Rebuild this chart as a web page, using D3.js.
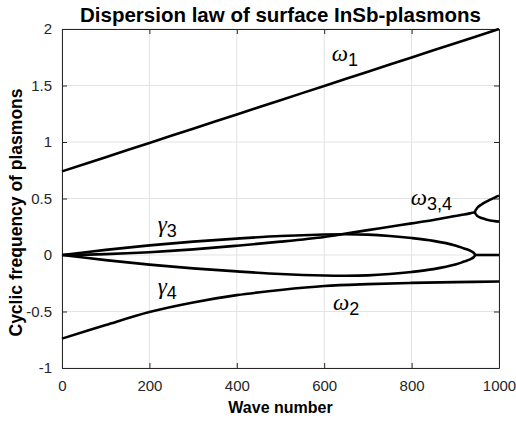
<!DOCTYPE html>
<html>
<head>
<meta charset="utf-8">
<script src="https://cdn.jsdelivr.net/npm/d3@7"></script>
<style>
  body { margin: 0; background: #fff; }
  text { font-family: "Liberation Sans", Arial, sans-serif; }
</style>
</head>
<body>
<div id="main"></div>
<script>
// wave number samples and branches
var kLine = [0, 100, 200, 300, 400, 500, 600, 700, 800, 900, 1000]
var omega1 = [0.74, 0.866, 0.992, 1.118, 1.244, 1.37, 1.496, 1.622, 1.748, 1.874, 2.0]
var omega2 = [-0.74, -0.62, -0.505, -0.42, -0.355, -0.31, -0.275, -0.258, -0.247, -0.24, -0.235]

var kLoop = [0, 100, 200, 300, 400, 500, 600, 650, 700, 750, 800, 850, 900, 920, 935, 942, 945]
var omega34 = [0, 0.008, 0.025, 0.05, 0.082, 0.118, 0.16, 0.19, 0.22, 0.25, 0.28, 0.31, 0.345, 0.358, 0.37, 0.376, 0.378]
var gamma3 = [0, 0.045, 0.085, 0.118, 0.145, 0.168, 0.182, 0.184, 0.18, 0.168, 0.15, 0.125, 0.085, 0.058, 0.036, 0.02, 0]
var gamma4 = gamma3.map(function(v){ return -v; })

var kSplit = [945, 950, 960, 970, 980, 990, 1000]
var omega3 = [0.378, 0.416, 0.447, 0.47, 0.49, 0.508, 0.525]
var omega4 = [0.378, 0.346, 0.327, 0.315, 0.306, 0.30, 0.295]
var gammaZero = [0, 0, 0, 0, 0, 0, 0]

var xTicks = [0, 200, 400, 600, 800, 1000]
var yTicks = [-1, -0.5, 0, 0.5, 1, 1.5, 2]

var dimensions = {
  width: 516,
  height: 423,
  margin: { top: 29, bottom: 55, right: 17, left: 62 }
}
dimensions.boundedWidth = dimensions.width - dimensions.margin.left - dimensions.margin.right
dimensions.boundedHeight = dimensions.height - dimensions.margin.top - dimensions.margin.bottom

var svg = d3.select("#main")
  .append("svg")
  .attr("width", dimensions.width)
  .attr("height", dimensions.height)

var SVG = svg.append("g")
  .attr("transform", "translate(" + dimensions.margin.left + "," + dimensions.margin.top + ")")

var x = d3.scaleLinear().domain([0, 1000]).range([0, dimensions.boundedWidth])
var y = d3.scaleLinear().domain([-1, 2]).range([dimensions.boundedHeight, 0])

// grid
SVG.append("g").selectAll("line").data(xTicks).enter().append("line")
  .attr("x1", function(d){ return x(d); }).attr("x2", function(d){ return x(d); })
  .attr("y1", 0).attr("y2", dimensions.boundedHeight)
  .attr("stroke", "#e3e3e3").attr("stroke-width", 1)
SVG.append("g").selectAll("line").data(yTicks).enter().append("line")
  .attr("y1", function(d){ return y(d); }).attr("y2", function(d){ return y(d); })
  .attr("x1", 0).attr("x2", dimensions.boundedWidth)
  .attr("stroke", "#e3e3e3").attr("stroke-width", 1)

// axes with inner ticks on all four sides
function styleAxis(g) {
  g.select(".domain").attr("stroke", "#262626").attr("stroke-width", 1)
  g.selectAll(".tick line").attr("stroke", "#262626")
  g.selectAll(".tick text").attr("fill", "#262626")
    .style("font-family", "'Liberation Sans', Arial, sans-serif").style("font-size", "15px")
}
var plain = function(d){ return String(d); }
SVG.append("g")
  .attr("transform", "translate(0," + dimensions.boundedHeight + ")")
  .call(d3.axisBottom(x).tickValues(xTicks).tickFormat(plain).tickSizeInner(-5).tickSizeOuter(0).tickPadding(12))
  .call(styleAxis)
SVG.append("g")
  .call(d3.axisLeft(y).tickValues(yTicks).tickFormat(plain).tickSizeInner(-5).tickSizeOuter(0).tickPadding(10))
  .call(styleAxis)
SVG.append("g")
  .call(d3.axisTop(x).tickValues(xTicks).tickSizeInner(-5).tickSizeOuter(0).tickFormat(""))
  .call(styleAxis)
SVG.append("g")
  .attr("transform", "translate(" + dimensions.boundedWidth + ",0)")
  .call(d3.axisRight(y).tickValues(yTicks).tickSizeInner(-5).tickSizeOuter(0).tickFormat(""))
  .call(styleAxis)

// curves
function pts(ks, vs) { return ks.map(function(k, i){ return [k, vs[i]]; }); }
var line = d3.line()
  .x(function(d){ return x(d[0]); })
  .y(function(d){ return y(d[1]); })
  .curve(d3.curveCatmullRom.alpha(0.5))

var curves = [
  pts(kLine, omega1),
  pts(kLine, omega2),
  pts(kLoop, omega34),
  pts(kLoop, gamma3).concat(pts(kLoop, gamma4).reverse().slice(1)),
  pts(kSplit, omega3).reverse().concat(pts(kSplit, omega4).slice(1)),
  pts(kSplit, gammaZero)
]
SVG.append("g").selectAll("path").data(curves).enter().append("path")
  .attr("d", line)
  .attr("fill", "none")
  .attr("stroke", "#000")
  .attr("stroke-width", 2.6)
  .attr("stroke-linejoin", "round")

// curve labels
var labels = [
  { k: 617, v: 1.717, main: "\u03c9", sub: "1" },
  { k: 620, v: -0.487, main: "\u03c9", sub: "2" },
  { k: 798, v: 0.442, main: "\u03c9", sub: "3,4" },
  { k: 219, v: 0.204, main: "\u03b3", sub: "3" },
  { k: 219, v: -0.345, main: "\u03b3", sub: "4" }
]
var lab = SVG.append("g").selectAll("text").data(labels).enter().append("text")
  .attr("x", function(d){ return x(d.k); })
  .attr("y", function(d){ return y(d.v); })
  .attr("fill", "#000")
lab.append("tspan")
  .style("font-family", "'Liberation Serif', serif").style("font-style", "italic").style("font-size", "23px")
  .text(function(d){ return d.main; })
lab.append("tspan")
  .attr("dy", 5)
  .style("font-size", "18px")
  .text(function(d){ return d.sub; })

// title and axis labels
svg.append("text")
  .attr("x", dimensions.margin.left + dimensions.boundedWidth / 2)
  .attr("y", 22)
  .attr("text-anchor", "middle")
  .style("font-size", "20.5px").style("font-weight", "bold")
  .text("Dispersion law of surface InSb-plasmons")
svg.append("text")
  .attr("x", dimensions.margin.left + dimensions.boundedWidth / 2)
  .attr("y", 413)
  .attr("text-anchor", "middle")
  .style("font-size", "16px").style("font-weight", "bold")
  .text("Wave number")
svg.append("text")
  .attr("transform", "translate(22," + (dimensions.margin.top + dimensions.boundedHeight / 2 + 14) + ") rotate(-90)")
  .attr("text-anchor", "middle")
  .style("font-size", "17.5px").style("font-weight", "bold")
  .text("Cyclic frequency of plasmons")
</script>
</body>
</html>
